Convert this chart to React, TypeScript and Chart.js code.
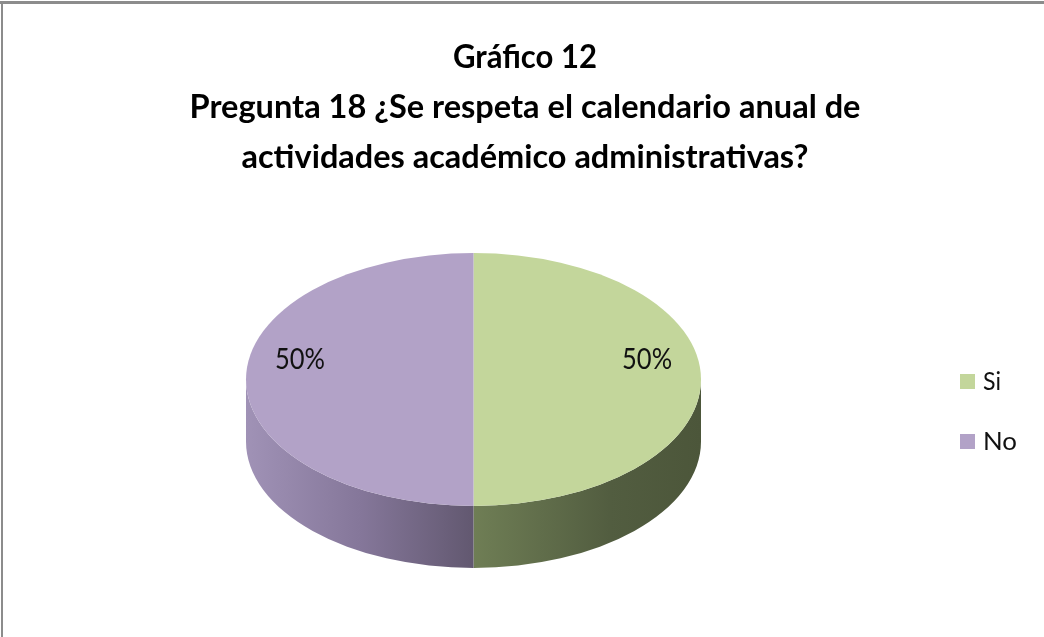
import { useEffect, useRef } from "react";
import { Chart, registerables } from "chart.js";

Chart.register(...registerables);

// ---- data ----
const categories = ["Si", "No"];
const values = [50, 50];
const titleLines = [
  "Gráfico 12",
  "Pregunta 18 ¿Se respeta el calendario anual de",
  "actividades académico administrativas?",
];

// ---- styles ----
const TOP_COLORS = ["#c3d69b", "#b2a2c7"];
const SIDE_STOPS: [number, string][][] = [
  [
    [0.5, "#6f7e55"],
    [0.8, "#525d40"],
    [1, "#4c563a"],
  ],
  [
    [0, "#a092b6"],
    [0.25, "#85779a"],
    [0.5, "#625870"],
  ],
];
const TILT = 126.5 / 227.5;
const DEPTH = 62;

function drawFitted(
  ctx: CanvasRenderingContext2D,
  text: string,
  x: number,
  baseline: number,
  font: string,
  targetWidth: number,
  align: CanvasTextAlign,
  color: string
) {
  ctx.save();
  ctx.font = font;
  const w = ctx.measureText(text).width || 1;
  const sx = targetWidth / w;
  ctx.translate(x, baseline);
  ctx.scale(sx, 1);
  ctx.textAlign = align;
  ctx.textBaseline = "alphabetic";
  ctx.fillStyle = color;
  ctx.fillText(text, 0, 0);
  ctx.restore();
}

const pie3d = {
  id: "pie3d",
  beforeDraw(chart: any) {
    const ctx: CanvasRenderingContext2D = chart.ctx;
    ctx.save();
    ctx.fillStyle = "#ffffff";
    ctx.fillRect(0, 0, chart.width, chart.height);
    ctx.fillStyle = "#8c8c8c";
    ctx.fillRect(0, 1, chart.width, 3);
    ctx.fillRect(1, 1, 2, chart.height);
    ctx.restore();
  },
  beforeDatasetsDraw(chart: any) {
    const ctx: CanvasRenderingContext2D = chart.ctx;
    const meta = chart.getDatasetMeta(0);
    const first = meta.data[0];
    const cx = first.x;
    const cy = first.y;
    const r = first.outerRadius;
    const ry = r * TILT;
    ctx.save();
    meta.data.forEach((arc: any, i: number) => {
      const s = arc.startAngle;
      const e = arc.endAngle;
      for (const off of [-2 * Math.PI, 0, 2 * Math.PI]) {
        const a1 = Math.max(s + off, 0);
        const a2 = Math.min(e + off, Math.PI);
        if (a2 <= a1) continue;
        const g = ctx.createLinearGradient(cx - r, 0, cx + r, 0);
        SIDE_STOPS[i % SIDE_STOPS.length].forEach(([p, c]) => g.addColorStop(p, c));
        ctx.beginPath();
        ctx.ellipse(cx, cy, r, ry, 0, a1, a2, false);
        ctx.lineTo(cx + r * Math.cos(a2), cy + ry * Math.sin(a2) + DEPTH);
        ctx.ellipse(cx, cy + DEPTH, r, ry, 0, a2, a1, true);
        ctx.closePath();
        ctx.fillStyle = g;
        ctx.fill();
      }
    });
    ctx.restore();
    ctx.save();
    ctx.translate(cx, cy);
    ctx.scale(1, TILT);
    ctx.translate(-cx, -cy);
  },
  afterDatasetsDraw(chart: any) {
    const ctx: CanvasRenderingContext2D = chart.ctx;
    ctx.restore();
    const meta = chart.getDatasetMeta(0);
    const total = values.reduce((a, b) => a + b, 0);
    meta.data.forEach((arc: any, i: number) => {
      const mid = (arc.startAngle + arc.endAngle) / 2;
      const r = arc.outerRadius;
      const x = arc.x + Math.cos(mid) * r * 0.763;
      const y = arc.y + Math.sin(mid) * r * TILT - 20.5;
      const txt = Math.round((values[i] / total) * 100) + "%";
      drawFitted(ctx, txt, x, y + 10, "400 28px Lato", 50, "center", "#111111");
    });
  },
  afterDraw(chart: any) {
    const ctx: CanvasRenderingContext2D = chart.ctx;
    const widths = [144, 671, 567];
    const baselines = [68, 118, 168];
    titleLines.forEach((t, i) => {
      drawFitted(ctx, t, 525, baselines[i], "700 33px Lato", widths[i], "center", "#000000");
    });
    // legend
    const legendY = [374, 434];
    const legendW = [18, 34];
    categories.forEach((c, i) => {
      ctx.fillStyle = TOP_COLORS[i];
      ctx.fillRect(960, legendY[i], 15, 15);
      drawFitted(ctx, c, 983, legendY[i] + 15.5, "400 25px Lato", legendW[i], "left", "#111111");
    });
  },
};

export default function App() {
  const ref = useRef<HTMLCanvasElement | null>(null);
  useEffect(() => {
    document.body.style.margin = "0";
    const canvas = ref.current!;
    const chart = new Chart(canvas, {
      type: "pie",
      data: {
        labels: categories,
        datasets: [
          {
            data: values,
            backgroundColor: TOP_COLORS,
            borderWidth: 0,
            clip: false,
          } as any,
        ],
      },
      options: {
        responsive: false,
        animation: false,
        events: [],
        layout: { padding: { left: 246, right: 343, top: 152, bottom: 30 } },
        plugins: {
          legend: { display: false },
          title: { display: false },
          tooltip: { enabled: false },
        },
      },
      plugins: [pie3d],
    });
    return () => chart.destroy();
  }, []);
  return <canvas ref={ref} width={1044} height={637} style={{ display: "block" }} />;
}
